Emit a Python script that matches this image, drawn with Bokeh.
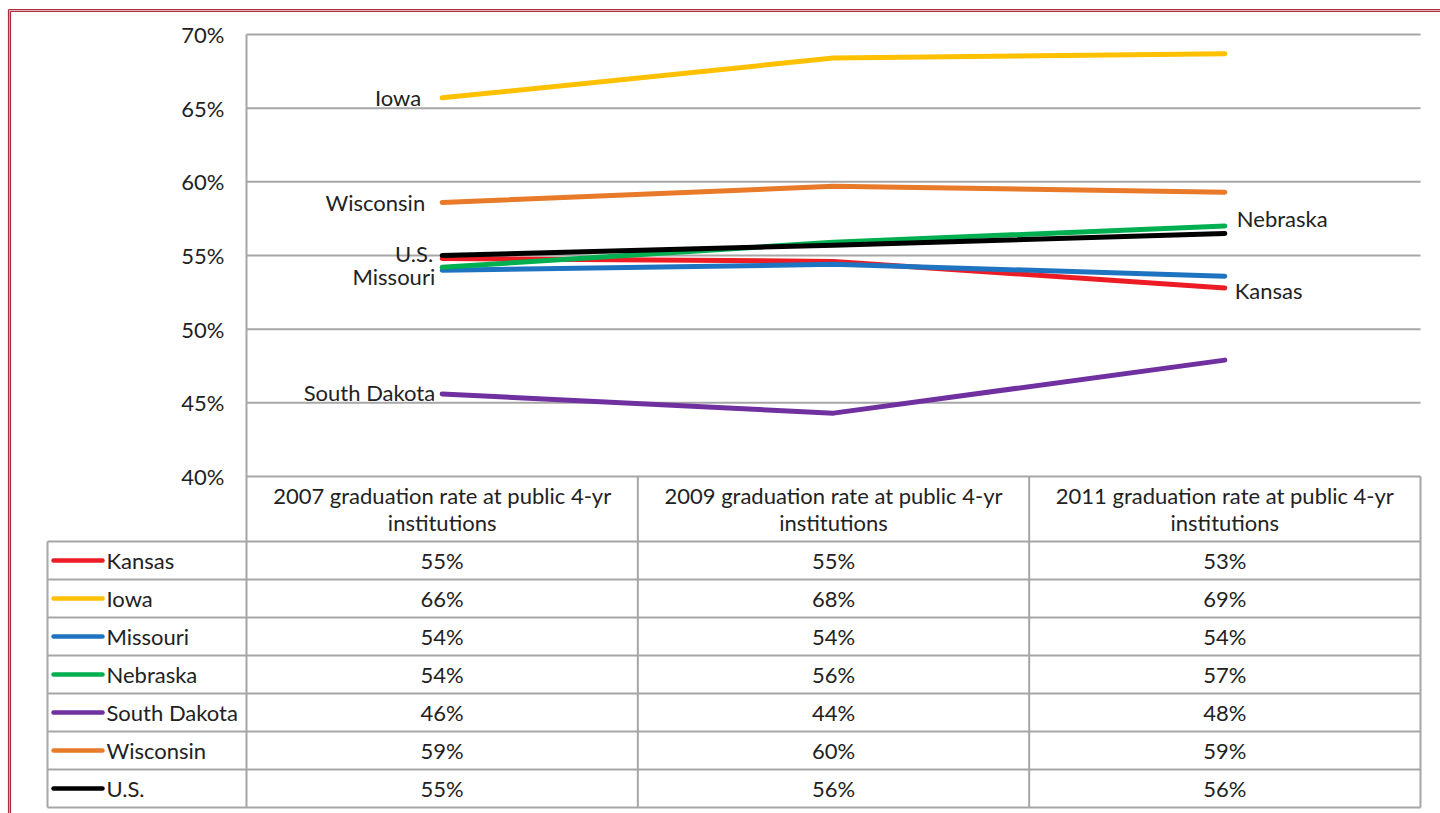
from bokeh.plotting import figure
from bokeh.models import Range1d, LinearAxis, FixedTicker, PrintfTickFormatter
from bokeh.core.properties import value
from bokeh.embed import file_html
from bokeh.resources import INLINE

# ---------------- data ----------------
categories = [
    "2007 graduation rate at public 4-yr institutions",
    "2009 graduation rate at public 4-yr institutions",
    "2011 graduation rate at public 4-yr institutions",
]
series_names = ["Kansas", "Iowa", "Missouri", "Nebraska", "South Dakota", "Wisconsin", "U.S."]
kansas = [54.8, 54.6, 52.8]
iowa = [65.7, 68.4, 68.7]
missouri = [54.0, 54.4, 53.6]
nebraska = [54.2, 55.9, 57.0]
south_dakota = [45.6, 44.3, 47.9]
wisconsin = [58.6, 59.7, 59.3]
us = [55.0, 55.7, 56.5]
y_ticks = [40, 45, 50, 55, 60, 65, 70]

series_values = [kansas, iowa, missouri, nebraska, south_dakota, wisconsin, us]

# ---------------- styles ----------------
colors = ["#ed1c24", "#ffc000", "#1f74c2", "#00b050", "#7030a0", "#e87a2a", "#000000"]
# data-label placement: (point index, align, x offset px, y offset px)
label_style = {
    "Kansas": (2, "left", 10, 3),
    "Iowa": (0, "right", -21, 0),
    "Missouri": (0, "right", -7, 6),
    "Nebraska": (2, "left", 12, -8),
    "South Dakota": (0, "right", -7, -1),
    "Wisconsin": (0, "right", -17, 0),
    "U.S.": (0, "right", -9, -2),
}
FONT = "Lato"
FS = "22px"
TXT = "#222222"
GRID = "#a6a6a6"

# ---------------- layout (page pixels) ----------------
FIG_X0, FIG_Y0, W, H = 0, 0, 1440, 813
PLOT_L, PLOT_R, PLOT_T, PLOT_B = 246, 1420, 34, 476
Y_TOP, Y_BOT = 70.0, 40.0
N = len(categories)
UX = (PLOT_R - PLOT_L) / N
UY = (PLOT_B - PLOT_T) / (Y_TOP - Y_BOT)


def X(px):
    return (px - PLOT_L) / UX


def Y(py):
    return Y_TOP - (py - PLOT_T) / UY


TABLE_LEFT = 47
HEAD_BOT = 541
TABLE_BOT = 807
ROW_H = (TABLE_BOT - HEAD_BOT) / len(series_names)

p = figure(width=W, height=H, output_backend="svg", toolbar_location=None,
           x_range=Range1d(X(FIG_X0), X(FIG_X0 + W)),
           y_range=Range1d(Y(FIG_Y0 + H), Y(FIG_Y0)),
           x_axis_location=None, y_axis_location=None,
           min_border=0, min_border_left=0, min_border_right=0,
           min_border_top=0, min_border_bottom=0)
p.outline_line_color = None
p.xgrid.visible = False
p.ygrid.visible = False
p.background_fill_color = "white"
p.border_fill_color = "white"

# red page border (top and left), double line
for pos, col, lw in [(10, "#e6b3b8", 2), (9, "#a8323f", 1.2), (11, "#a8323f", 1.2)]:
    p.segment(x0=[X(pos - 1)], y0=[Y(pos)], x1=[X(FIG_X0 + W)], y1=[Y(pos)],
              line_color=col, line_width=lw)
    p.segment(x0=[X(pos - 1)], y0=[Y(pos)], x1=[X(pos - 1)], y1=[Y(FIG_Y0 + H)],
              line_color=col, line_width=lw)

# horizontal gridlines over plot area
p.segment(x0=[0] * len(y_ticks), y0=y_ticks, x1=[N] * len(y_ticks), y1=y_ticks,
          line_color=GRID, line_width=2)

# table lines
row_tops = [HEAD_BOT + i * ROW_H for i in range(len(series_names) + 1)]
p.segment(x0=[X(TABLE_LEFT)] * len(row_tops), y0=[Y(r) for r in row_tops],
          x1=[N] * len(row_tops), y1=[Y(r) for r in row_tops],
          line_color=GRID, line_width=2)
p.segment(x0=list(range(1, N + 1)), y0=[Y_BOT] * N, x1=list(range(1, N + 1)),
          y1=[Y(TABLE_BOT)] * N, line_color=GRID, line_width=2)
p.segment(x0=[X(TABLE_LEFT)], y0=[Y(HEAD_BOT)], x1=[X(TABLE_LEFT)], y1=[Y(TABLE_BOT)],
          line_color=GRID, line_width=2)

# y axis placed at plot-area left edge
yaxis = LinearAxis(fixed_location=0, ticker=FixedTicker(ticks=y_ticks),
                   formatter=PrintfTickFormatter(format="%d%%"),
                   bounds=(Y(TABLE_BOT), Y_TOP))
yaxis.axis_line_color = GRID
yaxis.axis_line_width = 2
yaxis.major_tick_line_color = None
yaxis.minor_tick_line_color = None
yaxis.major_tick_in = 0
yaxis.major_tick_out = 0
yaxis.major_label_standoff = 22
yaxis.major_label_text_font = FONT
yaxis.major_label_text_font_size = FS
yaxis.major_label_text_color = TXT
p.add_layout(yaxis, "left")

xs = [i + 0.5 for i in range(N)]

# series lines
for name, vals, col in zip(series_names, series_values, colors):
    p.line(xs, vals, line_color=col, line_width=5, line_cap="round", line_join="round")

# data labels
for name, vals in zip(series_names, series_values):
    idx, align, xo, yo = label_style[name]
    p.text(x=[xs[idx]], y=[vals[idx]], text=[name], text_align=align,
           text_baseline="middle", x_offset=xo, y_offset=yo,
           text_font=value(FONT), text_font_size=FS, text_color=TXT)

# table header
p.text(x=xs, y=[Y((PLOT_B + HEAD_BOT) / 2)] * N,
       text=[c.replace(" institutions", "\ninstitutions") for c in categories],
       text_align="center", text_baseline="middle", text_line_height=0.98,
       text_font=value(FONT), text_font_size=FS, text_color=TXT)

# table rows
for i, (name, vals, col) in enumerate(zip(series_names, series_values, colors)):
    yc = Y(HEAD_BOT + (i + 0.5) * ROW_H)
    p.segment(x0=[X(53)], y0=[yc], x1=[X(102)], y1=[yc], line_color=col,
              line_width=4.5, line_cap="round")
    p.text(x=[X(106)], y=[yc], text=[name], text_align="left", text_baseline="middle",
           text_font=value(FONT), text_font_size=FS, text_color=TXT)
    p.text(x=xs, y=[yc] * N, text=[f"{v:.0f}%" for v in vals], text_align="center",
           text_baseline="middle", text_font=value(FONT), text_font_size=FS,
           text_color=TXT)

open("out.html", "w").write(file_html(p, INLINE))
